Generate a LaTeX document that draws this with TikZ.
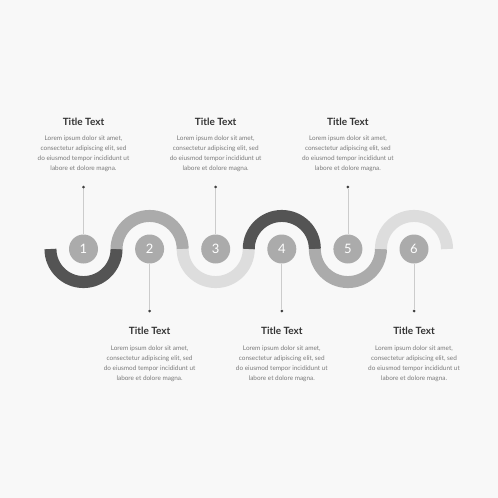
\documentclass[tikz,border=0pt]{standalone}
\usepackage{fontspec}
\setmainfont{Lato}
\usepackage{tikz}
\usetikzlibrary{positioning}

\definecolor{bgcol}{HTML}{F8F8F8}
\definecolor{darkband}{HTML}{545454}
\definecolor{midband}{HTML}{ABABAB}
\definecolor{lightband}{HTML}{DDDDDD}
\definecolor{titlecol}{HTML}{333333}
\definecolor{bodycol}{HTML}{7A7A7A}

\begin{document}
\begin{tikzpicture}
            [x=1pt, y=-1pt,
             band/.style={line width=12pt},
             stepnum/.style={circle, fill=midband, minimum size=29pt, inner sep=0pt,
                             text=white, font=\fontsize{13}{13}\selectfont},
             pin/.style={circle, fill=black!75, minimum size=3pt, inner sep=0pt},
             leader/.style={draw=black!20, line width=0.7pt},
             title/.style={text=titlecol, font=\bfseries\fontsize{10}{11}\selectfont},
             body/.style={text=bodycol, align=center, inner sep=0pt,
                          font=\fontsize{6.4}{10}\selectfont}]
            \fill[bgcol] (0,0) rectangle (498,498);
            \useasboundingbox (0,0) rectangle (498,498);

            % wave
            \draw[band, darkband]  (50.45,249)  arc[start angle=180, end angle=360, radius=33.05pt];
            \draw[band, midband]   (116.55,249) arc[start angle=180, end angle=0, radius=33.05pt];
            \draw[band, lightband] (182.65,249) arc[start angle=180, end angle=360, radius=33.05pt];
            \draw[band, darkband]  (248.75,249) arc[start angle=180, end angle=0, radius=33.05pt];
            \draw[band, midband]   (314.85,249) arc[start angle=180, end angle=360, radius=33.05pt];
            \draw[band, lightband] (380.95,249) arc[start angle=180, end angle=0, radius=33.05pt];

            % steps
            \node[stepnum] (c1) at (83.5,249) {1};
            \node[stepnum] (c2) at (149.6,249) {2};
            \node[stepnum] (c3) at (215.7,249) {3};
            \node[stepnum] (c4) at (281.8,249) {4};
            \node[stepnum] (c5) at (347.9,249) {5};
            \node[stepnum] (c6) at (414,249) {6};

            \node[pin] (d1) at (83.5,187) {};
            \node[pin] (d2) at (149.6,311) {};
            \node[pin] (d3) at (215.7,187) {};
            \node[pin] (d4) at (281.8,311) {};
            \node[pin] (d5) at (347.9,187) {};
            \node[pin] (d6) at (414,311) {};

            \path[leader] (c1) -- (d1);
            \path[leader] (c2) -- (d2);
            \path[leader] (c3) -- (d3);
            \path[leader] (c4) -- (d4);
            \path[leader] (c5) -- (d5);
            \path[leader] (c6) -- (d6);

            % texts
            \foreach \n/\x/\ty/\by in {1/83.5/122/154, 2/149.6/331/364, 3/215.7/122/154,
                                       4/281.8/331/364, 5/347.9/122/154, 6/414/331/364} {
                \node[title] (t\n) at (\x,\ty) {Title Text};
                \node[body] (b\n) at (\x,\by) {Lorem ipsum dolor sit amet,\\
                    consectetur adipiscing elit, sed\\
                    do eiusmod tempor incididunt ut\\
                    labore et dolore magna.};
            }
        \end{tikzpicture}
\end{document}
